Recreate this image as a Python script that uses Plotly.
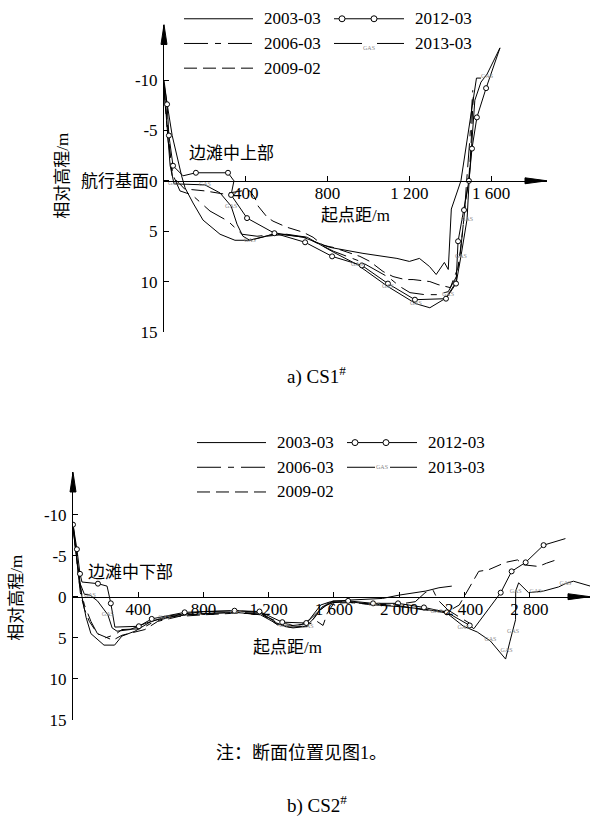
import plotly.graph_objects as go

# ---------------- data ----------------
years = ["2003-03", "2006-03", "2009-02", "2012-03", "2013-03"]

# CS1
cs1_2003_x = [0, 40, 86, 103, 142, 191, 274, 347, 420, 552, 680, 810, 973, 1139, 1200, 1249, 1298, 1331, 1371, 1390, 1405, 1452, 1528, 1550]
cs1_2003_y = [-9.6, -4.5, -0.5, 0.7, 2.2, 3.9, 5.3, 5.9, 5.9, 5.2, 5.6, 6.6, 7.2, 7.7, 8.0, 7.7, 8.5, 9.3, 8.1, 8.8, 2.8, 0.0, -10.2, -10.2]

cs1_2006_x = [0, 20, 44, 78, 137, 225, 313, 381, 455, 560, 690, 830, 960, 1100, 1154, 1203, 1276, 1335, 1390, 1430, 1450, 1470, 1480, 1495, 1510]
cs1_2006_y = [-9.0, -4.0, -0.6, 1.0, 1.4, 3.0, 4.0, 5.3, 5.5, 5.3, 5.6, 7.0, 8.0, 9.6, 10.5, 11.1, 11.3, 11.3, 11.0, 9.5, 7.0, 3.0, 0.0, -4.0, -9.0]

cs1_2009_x = [0, 20, 40, 100, 200, 290, 380, 420, 445, 460, 504, 533, 600, 680, 729, 778, 826, 958, 1007, 1071, 1120, 1178, 1218, 1300, 1340, 1400, 1440, 1460, 1475, 1490, 1500, 1512]
cs1_2009_y = [-9.3, -4.5, -0.5, 0.8, 1.0, 1.3, 1.0, 1.0, 1.7, 2.5, 3.6, 4.0, 4.6, 5.1, 5.6, 6.4, 6.6, 7.5, 8.0, 9.0, 9.5, 9.8, 9.8, 10.0, 10.3, 10.6, 8.5, 5.0, 2.0, 0.0, -3.0, -8.3]

cs1_2012_x = [0, 15, 24, 44, 93, 156, 313, 342, 328, 406, 540, 690, 822, 968, 1095, 1227, 1379, 1428, 1438, 1467, 1491, 1506, 1530, 1575, 1643]
cs1_2012_y = [-10.0, -7.6, -4.5, -1.5, -0.5, -0.8, -0.8, 0.0, 1.4, 3.7, 5.2, 6.1, 7.5, 8.4, 10.2, 11.8, 11.7, 10.2, 6.0, 2.9, 0.0, -3.2, -6.3, -9.2, -13.2]
cs1_2012_marked = [1, 2, 3, 5, 6, 8, 9, 10, 11, 12, 13, 14, 15, 16, 17, 18, 19, 20, 21, 22, 23]

cs1_2013_x = [0, 15, 30, 49, 200, 274, 328, 357, 386, 420, 500, 600, 700, 830, 944, 1095, 1232, 1300, 1374, 1389, 1430, 1452, 1470, 1482, 1492, 1505, 1520, 1550, 1580, 1643]
cs1_2013_y = [-9.3, -5.5, -1.5, 0.3, 0.4, 1.2, 2.5, 4.3, 5.5, 5.9, 5.5, 5.3, 5.6, 7.1, 8.3, 10.5, 12.2, 12.6, 11.7, 11.3, 10.0, 7.5, 5.5, 3.8, 0.0, -4.0, -8.0, -9.8, -10.6, -13.2]
cs1_gas_x = [49, 200, 328, 420, 944, 1095, 1232, 1389, 1452, 1482, 1580]
cs1_gas_y = [0.3, 0.4, 2.5, 5.9, 8.3, 10.5, 12.2, 11.3, 7.5, 3.8, -10.4]

# CS2
cs2_2003_x = [0, 25, 55, 80, 110, 190, 255, 300, 380, 480, 600, 800, 1000, 1150, 1250, 1300, 1400, 1450, 1520, 1580, 1700, 1800, 1900, 2000, 2165, 2245, 2324]
cs2_2003_y = [-9.0, -4.5, 0.0, 2.5, 4.5, 5.9, 5.9, 4.8, 4.2, 3.0, 2.3, 1.8, 1.7, 1.9, 3.2, 3.6, 3.4, 2.8, 1.0, 0.6, 0.4, 0.3, 0.2, -0.2, -0.7, -1.1, -1.3]

cs2_2006_x = [0, 20, 40, 70, 110, 150, 200, 260, 300, 420, 500, 650, 800, 1000, 1150, 1260, 1350, 1440, 1500, 1560, 1650, 1800, 2000, 2100, 2160, 2209, 2239, 2300, 2380, 2440]
cs2_2006_y = [-8.5, -5.0, -1.5, 1.0, 3.0, 4.5, 5.0, 4.6, 4.0, 3.9, 3.0, 2.2, 2.1, 1.9, 2.0, 3.5, 3.8, 3.6, 2.0, 0.8, 0.6, 0.9, 0.9, 0.6, -0.5, -0.8, 0.4, 1.6, 2.6, 3.3]

cs2_2009_x = [0, 20, 45, 70, 100, 150, 245, 300, 441, 520, 650, 800, 1000, 1150, 1250, 1350, 1450, 1497, 1534, 1560, 1600, 1700, 1850, 2000, 2150, 2300, 2370, 2400, 2446, 2489, 2550, 2600, 2654, 2727, 2764, 2856, 2905, 2979]
cs2_2009_y = [-8.8, -5.0, -0.5, 1.5, 3.0, 4.5, 5.3, 4.7, 4.0, 3.0, 2.4, 2.2, 2.0, 2.1, 3.0, 3.5, 3.3, 3.0, 3.5, 2.0, 0.8, 0.7, 0.9, 1.1, 1.6, 1.8, 1.0, 0.0, -1.7, -3.1, -3.3, -3.7, -4.2, -4.5, -3.9, -3.7, -4.1, -4.6]

cs2_2012_x = [0, 24, 43, 55, 153, 209, 232, 257, 404, 483, 685, 991, 1144, 1284, 1431, 1515, 1595, 1688, 1841, 1994, 2153, 2294, 2434, 2459, 2624, 2691, 2777, 2887, 3021]
cs2_2012_y = [-8.8, -5.8, -2.8, -1.8, -1.6, -1.3, 0.8, 3.7, 3.6, 2.7, 1.9, 1.7, 1.8, 3.1, 3.2, 1.6, 0.5, 0.5, 0.8, 0.8, 1.3, 1.9, 3.5, 3.9, -0.5, -3.1, -4.2, -6.3, -7.1]
cs2_2012_marked = [0, 1, 2, 4, 6, 8, 9, 10, 11, 12, 13, 14, 17, 18, 19, 20, 21, 22, 24, 25, 26, 27]

cs2_2013_x = [0, 20, 40, 70, 104, 150, 214, 240, 270, 350, 450, 550, 700, 850, 1000, 1150, 1250, 1330, 1430, 1480, 1530, 1600, 1700, 1850, 2000, 2153, 2294, 2396, 2480, 2561, 2620, 2654, 2680, 2715, 2716, 2734, 2795, 2838, 2887, 2979, 3021, 3070, 3174]
cs2_2013_y = [-8.5, -5.2, -1.8, -0.3, -0.2, 0.5, 2.2, 3.8, 4.2, 4.0, 3.2, 2.6, 2.2, 2.0, 1.9, 2.2, 3.3, 3.7, 3.6, 2.6, 1.2, 0.7, 0.6, 1.0, 1.2, 1.5, 2.0, 3.6, 4.3, 5.4, 6.8, 7.6, 5.5, 2.8, -0.7, -1.7, -0.5, -0.6, -0.7, -1.2, -1.6, -1.9, -1.3]
cs2_gas_x = [104, 214, 560, 1000, 1300, 1440, 1850, 2230, 2396, 2561, 2660, 2700, 2716, 2838, 3021]
cs2_gas_y = [-0.2, 2.2, 2.5, 1.9, 3.5, 3.6, 1.0, 1.8, 3.7, 5.2, 6.6, 4.2, -0.7, -0.6, -1.6]

cs1_xticks = [400, 800, 1200, 1600]
cs1_xtext = ["400", "800", "1 200", "1 600"]
cs2_xticks = [400, 800, 1200, 1600, 2000, 2400, 2800]
cs2_xtext = ["400", "800", "1 200", "1 600", "2 000", "2 400", "2 800"]
yticks = [-10, -5, 0, 5, 10, 15]
cs1_ytext = ["-10", "-5", "航行基面0", "5", "10", "15"]
cs2_ytext = ["-10", "-5", "0", "5", "10", "15"]

# ---------------- figure ----------------
W, H = 592, 827
def PX(x): return x / W
def PY(y): return 1 - y / H

FONT = "Liberation Serif, Noto Sans CJK SC, serif"
DASH = {"2003-03": "solid", "2006-03": "24px,7px,6px,7px", "2009-02": "13px,6px",
        "2012-03": "solid", "2013-03": "solid"}

fig = go.Figure()

def add_panel(xa, ya, series, marked, gx, gy):
    for name, (xs, ys) in zip(years, series):
        fig.add_trace(go.Scatter(x=xs, y=ys, mode="lines", xaxis=xa, yaxis=ya,
                                 line=dict(color="black", width=1, dash=DASH[name]),
                                 hoverinfo="skip", name=name))
    xs, ys = series[3]
    fig.add_trace(go.Scatter(x=[xs[i] for i in marked], y=[ys[i] for i in marked],
                             mode="markers", xaxis=xa, yaxis=ya,
                             marker=dict(symbol="circle", size=5, color="white",
                                         line=dict(color="black", width=1)),
                             hoverinfo="skip"))
    fig.add_trace(go.Scatter(x=gx, y=gy, mode="text", text=["GAS"] * len(gx),
                             xaxis=xa, yaxis=ya, textfont=dict(size=6, color="#888888", family=FONT),
                             hoverinfo="skip"))

add_panel("x", "y",
          [(cs1_2003_x, cs1_2003_y), (cs1_2006_x, cs1_2006_y), (cs1_2009_x, cs1_2009_y),
           (cs1_2012_x, cs1_2012_y), (cs1_2013_x, cs1_2013_y)],
          cs1_2012_marked, cs1_gas_x, cs1_gas_y)
add_panel("x2", "y2",
          [(cs2_2003_x, cs2_2003_y), (cs2_2006_x, cs2_2006_y), (cs2_2009_x, cs2_2009_y),
           (cs2_2012_x, cs2_2012_y), (cs2_2013_x, cs2_2013_y)],
          cs2_2012_marked, cs2_gas_x, cs2_gas_y)

axis_common = dict(showgrid=False, zeroline=False, showline=True, linecolor="black", linewidth=1,
                   ticks="inside", ticklen=5, tickcolor="black", tickwidth=1,
                   tickfont=dict(family=FONT, size=17, color="black"), tickmode="array")

# panel geometry in pixels
p1 = dict(x0=164, x1=547, y0=183, ytop=25, ybot=336, sx=0.2045)
p2 = dict(x0=73, x1=590, y0=604, ytop=478, ybot=728.5, sx=0.163)

fig.update_layout(
    xaxis=dict(axis_common, domain=[PX(p1["x0"]), PX(p1["x1"])], range=[0, (p1["x1"] - p1["x0"]) / p1["sx"]],
               anchor="free", position=PY(p1["y0"]), tickvals=cs1_xticks, ticktext=cs1_xtext,
               ticklabelstandoff=-3),
    yaxis=dict(axis_common, domain=[PY(p1["ybot"]), PY(p1["ytop"])], range=[15, -15.5], anchor="x",
               tickvals=yticks, ticktext=cs1_ytext, ticklabelstandoff=2),
    xaxis2=dict(axis_common, domain=[PX(p2["x0"]), PX(p2["x1"])], range=[0, (p2["x1"] - p2["x0"]) / p2["sx"]],
                anchor="free", position=PY(p2["y0"]), tickvals=cs2_xticks, ticktext=cs2_xtext,
                ticklabelstandoff=-3),
    yaxis2=dict(axis_common, domain=[PY(p2["ybot"]), PY(p2["ytop"])], range=[15, -15.2], anchor="x2",
                tickvals=yticks, ticktext=cs2_ytext, ticklabelstandoff=2),
)

shapes = []
annos = []

def arrow_right(x, y):
    shapes.append(dict(type="path", xref="paper", yref="paper",
                       path=f"M {PX(x)} {PY(y)} L {PX(x-22)} {PY(y-3)} L {PX(x-22)} {PY(y+3)} Z",
                       fillcolor="black", line=dict(color="black", width=1)))

def arrow_up(x, y):
    shapes.append(dict(type="path", xref="paper", yref="paper",
                       path=f"M {PX(x)} {PY(y)} L {PX(x-3)} {PY(y+20)} L {PX(x+3)} {PY(y+20)} Z",
                       fillcolor="black", line=dict(color="black", width=1)))

for p in (p1, p2):
    arrow_right(p["x1"], p["y0"])
    arrow_up(p["x0"], p["ytop"])

def text(x, y, s, size=17, xanchor="center", angle=0):
    annos.append(dict(x=PX(x), y=PY(y), xref="paper", yref="paper", text=s, showarrow=False,
                      xanchor=xanchor, yanchor="middle", textangle=angle,
                      font=dict(family=FONT, size=size, color="black")))

def hline(x0, x1, y, dash):
    shapes.append(dict(type="line", xref="paper", yref="paper", x0=PX(x0), x1=PX(x1), y0=PY(y), y1=PY(y),
                       line=dict(color="black", width=1, dash=dash)))

def legend(c1, c2, rows, mk):
    for (nm, r) in zip(["2003-03", "2006-03", "2009-02"], rows):
        hline(c1, c1 + 69, r, DASH[nm])
        text(c1 + 78, r, nm, xanchor="left")
    hline(c2, c2 + 70, rows[0], "solid")
    for m in mk:
        shapes.append(dict(type="circle", xref="paper", yref="paper", xsizemode="pixel", ysizemode="pixel",
                           xanchor=PX(m), yanchor=PY(rows[0]), x0=-3, x1=3, y0=-3, y1=3,
                           fillcolor="white", line=dict(color="black", width=1)))
    text(c2 + 79, rows[0], "2012-03", xanchor="left")
    hline(c2, c2 + 28, rows[1], "solid")
    hline(c2 + 43, c2 + 70, rows[1], "solid")
    annos.append(dict(x=PX(c2 + 35), y=PY(rows[1]), xref="paper", yref="paper", text="GAS", showarrow=False,
                      font=dict(family=FONT, size=6, color="#888888")))
    text(c2 + 79, rows[1], "2013-03", xanchor="left")

legend(184, 334, [19, 44, 69], [342, 374])
legend(197, 347, [448, 473, 498], [355, 386])

text(231, 155, "边滩中上部")
text(355, 218, "起点距/m")
text(63, 178, "相对高程/m", angle=-90)
text(316, 380, "a) CS1<sup>#</sup>", size=19)

text(130, 580, "边滩中下部")
text(287, 655, "起点距/m")
text(17, 605, "相对高程/m", angle=-90)
text(301, 762, "注：断面位置见图1。", size=18)
text(317, 814, "b) CS2<sup>#</sup>", size=19)

fig.update_layout(width=W, height=H, margin=dict(l=0, r=0, t=0, b=0),
                  paper_bgcolor="white", plot_bgcolor="white", showlegend=False,
                  shapes=shapes, annotations=annos)

fig.write_html("out.html", config={"displayModeBar": False},
               post_script="document.body.style.margin='0';document.body.style.overflow='hidden';")
